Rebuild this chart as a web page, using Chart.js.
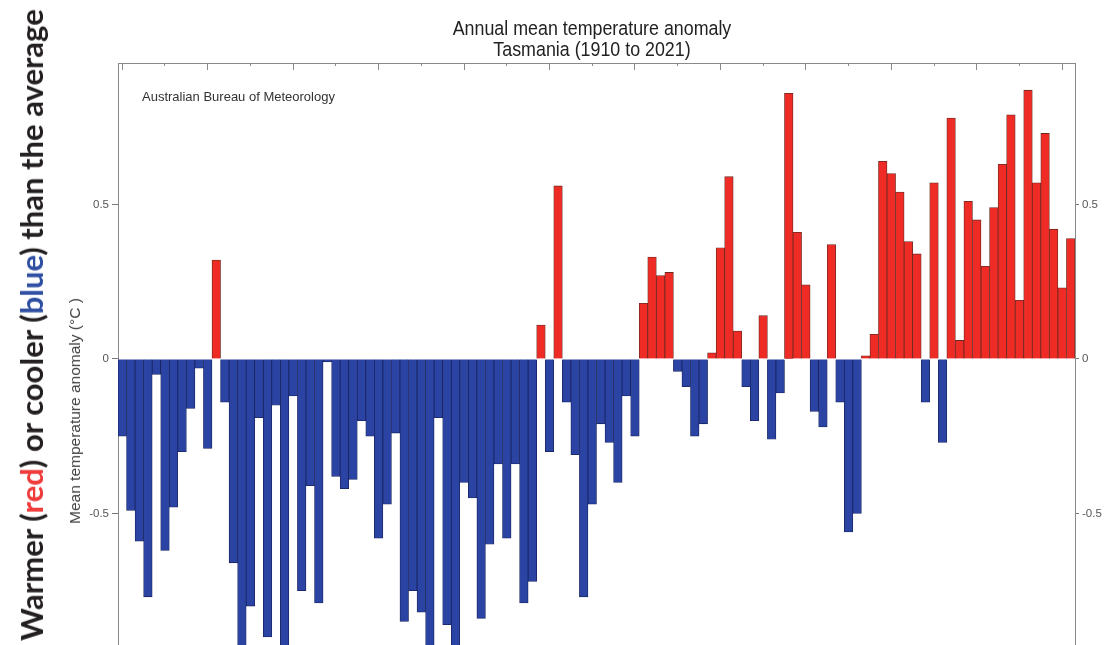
<!DOCTYPE html>
<html>
<head>
<meta charset="utf-8">
<script src="https://cdn.jsdelivr.net/npm/chart.js@4/dist/chart.umd.min.js"></script>
<style>
  html, body { margin: 0; padding: 0; background: #fff; overflow: hidden; }
  #wrap { position: relative; width: 1106px; height: 645px; }
  #c { position: absolute; left: 0; top: 0; }
  .rot { position: absolute; white-space: nowrap; transform: translate(-50%, -50%) rotate(-90deg); }
  #big { left: 31px; top: 325px; font: 700 31px Lato, "Open Sans", sans-serif; color: #231f20; }
  #big .r { color: #ef3b3a; }
  #big .b { color: #2f4fa2; }
  #ytitle { left: 75px; top: 411px; font: 15.5px "Liberation Sans", Arial, sans-serif; color: #444; }
  #bom { position: absolute; left: 142px; top: 89px; white-space: nowrap; color: #333; font: 13px "Liberation Sans", Arial, sans-serif; }
  #title { position: absolute; left: 592px; top: 17px; transform: translateX(-50%) scaleX(0.87); transform-origin: 50% 0;
           text-align: center; white-space: nowrap; font: 20.5px "Liberation Sans", Arial, sans-serif; line-height: 21px; color: #222; }
</style>
</head>
<body>
<div id="wrap">
  <canvas id="c" width="1106" height="645"></canvas>
  <div id="title"></div>
  <div id="big" class="rot">Warmer (<span class="r">red</span>) or cooler (<span class="b">blue</span>) than the average</div>
  <div id="ytitle" class="rot">Mean temperature anomaly (°C )</div>
  <div id="bom">Australian Bureau of Meteorology</div>
</div>
<script>
// ---- data ----
const firstYear = 1910;
const lastYear = 2021;
const years = [];
for (let y = firstYear; y <= lastYear; y++) years.push(String(y));

const anomalies = [
  -0.25, -0.49, -0.59, -0.77, -0.05, -0.62, -0.48, -0.30, -0.16, -0.03,
  -0.29,  0.32, -0.14, -0.66, -0.98, -0.80, -0.19, -0.90, -0.15, -0.99,
  -0.12, -0.75, -0.41, -0.79, -0.01, -0.38, -0.42, -0.39, -0.20, -0.25,
  -0.58, -0.47, -0.24, -0.85, -0.75, -0.82, -1.00, -0.19, -0.86, -0.97,
  -0.40, -0.45, -0.84, -0.60, -0.34, -0.58, -0.34, -0.79, -0.72,  0.11,
  -0.30,  0.56, -0.14, -0.31, -0.77, -0.47, -0.21, -0.27, -0.40, -0.12,
  -0.25,  0.18,  0.33,  0.27,  0.28, -0.04, -0.09, -0.25, -0.21,  0.02,
   0.36,  0.59,  0.09, -0.09, -0.20,  0.14, -0.26, -0.11,  0.86,  0.41,
   0.24, -0.17, -0.22,  0.37, -0.14, -0.56, -0.50,  0.01,  0.08,  0.64,
   0.60,  0.54,  0.38,  0.34, -0.14,  0.57, -0.27,  0.78,  0.06,  0.51,
   0.45,  0.30,  0.49,  0.63,  0.79,  0.19,  0.87,  0.57,  0.73,  0.42,
   0.23,  0.39
];

const yTickValues = [-0.5, 0, 0.5];
const yMin = -0.926;
const yMax = 0.958;
const titleLines = ['Annual mean temperature anomaly', 'Tasmania (1910 to 2021)'];

document.getElementById('title').innerHTML = titleLines.join('<br>');

const RED = '#ee2c25';
const BLUE = '#2b44a4';
const RED_EDGE = '#6a2a22';
const BLUE_EDGE = '#18235e';
const FRAME = '#8a8a8a';

const axisTicks = {
  font: { family: '"Liberation Sans", Arial', size: 11.5 },
  color: '#555',
  padding: 3,
  callback: (v) => (v === 0 ? '0' : String(v))
};

function fixY(width) {
  return (s) => {
    s.width = width;
    s.paddingTop = 0;
    s.paddingBottom = 0;
  };
}

new Chart(document.getElementById('c'), {
  type: 'bar',
  data: {
    labels: years,
    datasets: [{
      data: anomalies,
      backgroundColor: (ctx) => (ctx.raw > 0 ? RED : BLUE),
      borderColor: (ctx) => (ctx.raw > 0 ? RED_EDGE : BLUE_EDGE),
      borderWidth: 0.8,
      categoryPercentage: 1,
      barPercentage: 1
    }]
  },
  options: {
    responsive: false,
    animation: false,
    devicePixelRatio: 1,
    layout: { padding: { top: 59, left: 0, right: 0, bottom: 0 } },
    plugins: {
      legend: { display: false },
      tooltip: { enabled: false },
      title: { display: false }
    },
    scales: {
      x: {
        type: 'category',
        position: 'top',
        ticks: { display: false, autoSkip: false },
        grid: {
          drawOnChartArea: false,
          offset: false,
          tickLength: -7,
          tickWidth: 1,
          tickColor: (ctx) => ((firstYear + ctx.index) % 5 === 0 ? '#888' : 'rgba(0,0,0,0)'),
          tickBorderDash: (ctx) => ((firstYear + ctx.index) % 10 === 0 ? [] : [0, 4, 3, 100])
        },
        border: { display: true, color: FRAME, width: 1 },
        afterFit: (s) => { s.height = 4; }
      },
      y: {
        position: 'left',
        min: yMin,
        max: yMax,
        afterBuildTicks: (s) => { s.ticks = yTickValues.map((v) => ({ value: v })); },
        ticks: axisTicks,
        grid: { drawOnChartArea: false, tickLength: 6, tickColor: '#777' },
        border: { display: true, color: FRAME, width: 1 },
        afterFit: fixY(118)
      },
      y2: {
        position: 'right',
        min: yMin,
        max: yMax,
        afterBuildTicks: (s) => { s.ticks = yTickValues.map((v) => ({ value: v })); },
        ticks: axisTicks,
        grid: { drawOnChartArea: false, tickLength: 4, tickColor: '#777' },
        border: { display: true, color: FRAME, width: 1 },
        afterFit: fixY(31)
      }
    }
  }
});
</script>
</body>
</html>
